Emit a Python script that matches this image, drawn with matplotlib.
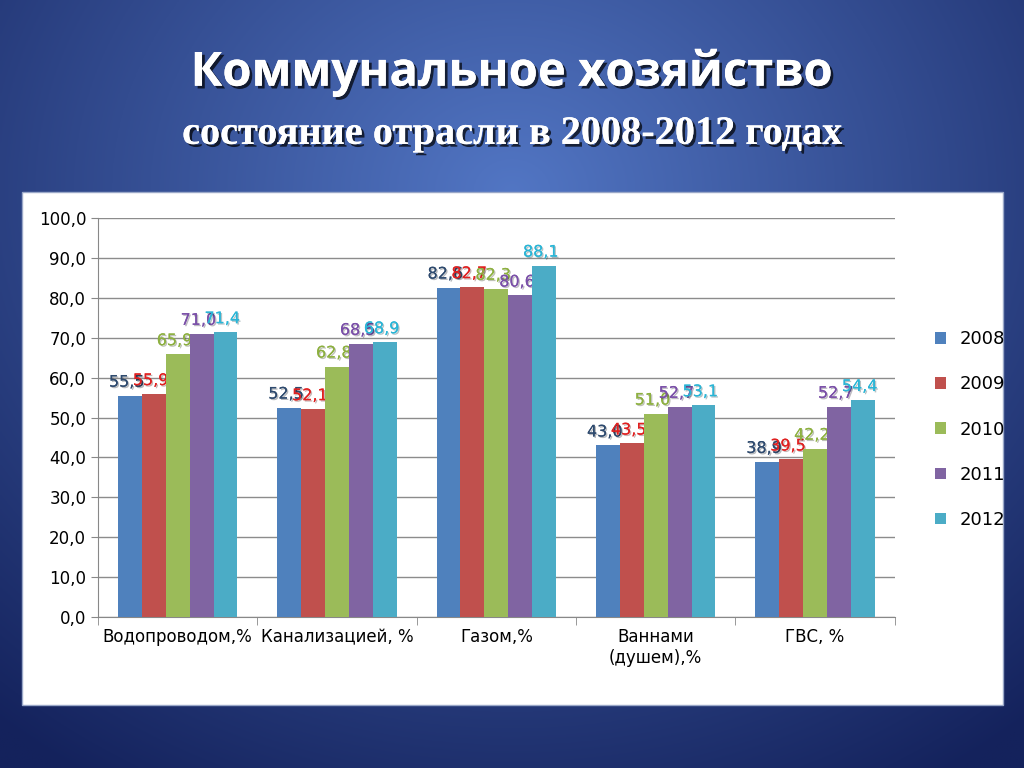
import numpy as np
import matplotlib.pyplot as plt
import matplotlib.patheffects as pe
from matplotlib.patches import Rectangle

categories = ['Водопроводом,%', 'Канализацией, %', 'Газом,%', 'Ваннами\n(душем),%', 'ГВС, %']
years = ['2008', '2009', '2010', '2011', '2012']
v2008 = [55.5, 52.5, 82.6, 43.0, 38.9]
v2009 = [55.9, 52.1, 82.7, 43.5, 39.5]
v2010 = [65.9, 62.8, 82.3, 51.0, 42.2]
v2011 = [71.0, 68.5, 80.6, 52.7, 52.7]
v2012 = [71.4, 68.9, 88.1, 53.1, 54.4]
series = [v2008, v2009, v2010, v2011, v2012]

colors = ['#4F81BD', '#C0504D', '#9BBB59', '#8064A2', '#4BACC6']
label_colors = ['#2E4A6E', '#E02020', '#8DB040', '#7A4FA8', '#2AB5D6']

fig = plt.figure(figsize=(10.24, 7.68), dpi=100)

# blue radial background
bg = fig.add_axes([0, 0, 1, 1], zorder=-10)
yy, xx = np.mgrid[-1:1:400j, -1:1:400j]
r = np.sqrt(xx**2 * 0.8 + (yy + 0.5)**2 * 0.6)
c0 = np.array([0x52, 0x76, 0xc4]) / 255
c1 = np.array([0x14, 0x22, 0x5c]) / 255
t = np.clip(r / 1.4, 0, 1)[..., None]
bg.imshow(c0 * (1 - t) + c1 * t, aspect='auto', extent=[0, 1, 0, 1])
bg.axis('off')
bg.add_patch(Rectangle((0.0215, 0.082), 0.958, 0.668, transform=bg.transAxes,
                       facecolor='white', edgecolor='#9aa8c8', lw=1))

shadow = [pe.withSimplePatchShadow(offset=(2, -2), shadow_rgbFace='black', alpha=0.7), pe.Normal()]
fig.text(0.5, 0.905, 'Коммунальное хозяйство', ha='center', va='center', color='white',
         fontsize=34, fontweight='bold', family='Open Sans', path_effects=shadow)
fig.text(0.5, 0.825, 'состояние отрасли в 2008-2012 годах', ha='center', va='center', color='white',
         fontsize=29, fontweight='bold', family='Liberation Serif', path_effects=shadow)

ax = fig.add_axes([0.0957, 0.1966, 0.778, 0.5194])
x = np.arange(len(categories))
w = 0.15
for i, (vals, yr) in enumerate(zip(series, years)):
    pos = x + (i - 2) * w
    ax.bar(pos, vals, w, color=colors[i], label=yr, zorder=3)
    for p, v in zip(pos, vals):
        ax.text(p - 0.02, v + 1.5, f'{v:.1f}'.replace('.', ','), ha='center', va='bottom',
                color=label_colors[i], fontsize=11.5, family='DejaVu Sans',
                path_effects=[pe.withSimplePatchShadow(offset=(1, -1), alpha=0.3), pe.Normal()])

ax.set_ylim(0, 100)
ax.set_xlim(-0.5, len(categories) - 0.5)
ax.set_yticks(np.arange(0, 101, 10))
ax.set_yticklabels([f'{v:.1f}'.replace('.', ',') for v in np.arange(0, 101, 10)], fontsize=12)
ax.set_xticks(x)
ax.set_xticklabels(categories, fontsize=12)
ax.set_xticks(np.arange(-0.5, len(categories)), minor=True)
ax.tick_params(axis='x', which='major', length=0, pad=8)
ax.tick_params(axis='x', which='minor', length=6, color='#888888')
ax.tick_params(axis='y', length=5, color='#888888')
ax.yaxis.grid(True, color='#8c8c8c', lw=1, zorder=0)
for s in ['top', 'right']:
    ax.spines[s].set_visible(False)
for s in ['left', 'bottom']:
    ax.spines[s].set_color('#888888')
ax.set_facecolor('white')

ax.legend(loc='center left', bbox_to_anchor=(1.03, 0.47), frameon=False, fontsize=13,
          handlelength=0.6, handleheight=0.6, labelspacing=1.5)

fig.savefig('out.png', dpi=100)
